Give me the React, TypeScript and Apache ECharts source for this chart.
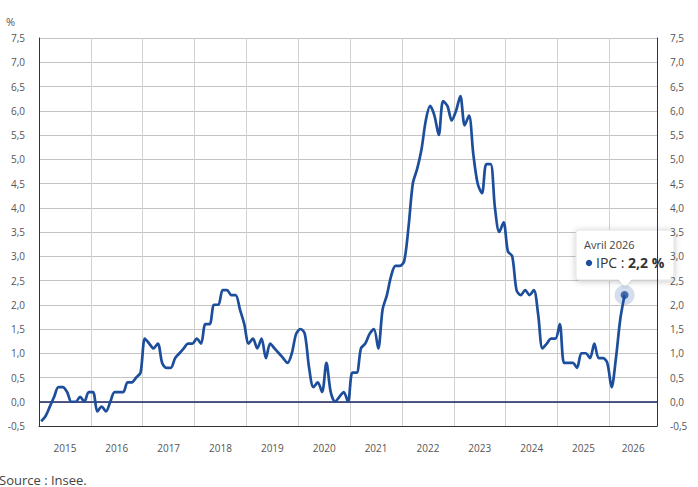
import React, { useEffect, useRef } from "react";
import * as echarts from "echarts";

// Glissement annuel de l'IPC (%), mensuel, janvier 2015 -> avril 2026
const ipc2015 = [-0.4, -0.3, -0.1, 0.1, 0.3, 0.3, 0.2, 0.0, 0.0, 0.1, 0.0, 0.2];
const ipc2016 = [0.2, -0.2, -0.1, -0.2, 0.0, 0.2, 0.2, 0.2, 0.4, 0.4, 0.5, 0.6];
const ipc2017 = [1.3, 1.2, 1.1, 1.2, 0.8, 0.7, 0.7, 0.9, 1.0, 1.1, 1.2, 1.2];
const ipc2018 = [1.3, 1.2, 1.6, 1.6, 2.0, 2.0, 2.3, 2.3, 2.2, 2.2, 1.9, 1.6];
const ipc2019 = [1.2, 1.3, 1.1, 1.3, 0.9, 1.2, 1.1, 1.0, 0.9, 0.8, 1.0, 1.4];
const ipc2020 = [1.5, 1.4, 0.7, 0.3, 0.4, 0.2, 0.8, 0.2, 0.0, 0.1, 0.2, 0.0];
const ipc2021 = [0.6, 0.6, 1.1, 1.2, 1.4, 1.5, 1.1, 1.9, 2.2, 2.6, 2.8, 2.8];
const ipc2022 = [2.9, 3.6, 4.5, 4.8, 5.2, 5.8, 6.1, 5.9, 5.5, 6.2, 6.1, 5.8];
const ipc2023 = [6.0, 6.3, 5.7, 5.9, 5.1, 4.5, 4.3, 4.9, 4.9, 4.0, 3.5, 3.7];
const ipc2024 = [3.1, 3.0, 2.3, 2.2, 2.3, 2.2, 2.3, 1.8, 1.1, 1.2, 1.3, 1.3];
const ipc2025 = [1.6, 0.8, 0.8, 0.8, 0.7, 1.0, 1.0, 0.9, 1.2, 0.9, 0.9, 0.8];
const ipc2026 = [0.3, 0.9, 1.7, 2.2];

const yearLabels = ["2015", "2016", "2017", "2018", "2019", "2020", "2021", "2022", "2023", "2024", "2025", "2026"];
const lastYearMonths = 11; // axis ends on 1 December 2026
const yMin = -0.5;
const yMax = 7.5;
const yStep = 0.5;

const seriesName = "IPC";
const tooltipTitle = "Avril 2026";
const unitLabel = "%";
const sourceLabel = "Source : Insee.";

const LINE = "#1d4e9b";
const FONT = "'Open Sans', 'Noto Sans', sans-serif";

const fmt = (v: number) => v.toFixed(1).replace(".", ",").replace("-0,0", "0,0");

export default function App() {
  const ref = useRef<HTMLDivElement>(null);

  useEffect(() => {
    if (!ref.current) return;
    const chart = echarts.init(ref.current, null, { renderer: "svg" });

    const values = [
      ...ipc2015, ...ipc2016, ...ipc2017, ...ipc2018, ...ipc2019, ...ipc2020,
      ...ipc2021, ...ipc2022, ...ipc2023, ...ipc2024, ...ipc2025, ...ipc2026,
    ];
    const data = values.map((v, i) => [i + 0.5, v]);
    const xMax = (yearLabels.length - 1) * 12 + lastYearMonths;
    const yearStarts = yearLabels.map((_, k) => k * 12);
    const labelPos = yearLabels.map((_, k) =>
      k === yearLabels.length - 1 ? (k * 12 + xMax) / 2 : k * 12 + 6
    );
    const last = data[data.length - 1];

    const yAxisBase = {
      type: "value",
      min: yMin,
      max: yMax,
      interval: yStep,
      axisTick: { show: false },
      axisLine: { show: true, lineStyle: { color: "#333", width: 1 } },
      axisLabel: {
        color: "#555",
        fontSize: 10,
        fontFamily: FONT,
        formatter: (v: number) => fmt(v),
      },
    };

    chart.setOption({
      animation: false,
      grid: { left: 39, right: 41, top: 38, bottom: 61 },
      xAxis: {
        type: "value",
        min: 0,
        max: xMax,
        axisLine: { show: true, onZero: false, lineStyle: { color: "#333", width: 1 } },
        axisTick: { show: false, customValues: yearStarts },
        splitLine: { show: true, lineStyle: { color: "#d0d0d0", width: 1 } },
        axisLabel: {
          customValues: labelPos,
          color: "#555",
          fontSize: 10,
          fontFamily: FONT,
          margin: 17,
          formatter: (v: number) => yearLabels[Math.min(yearLabels.length - 1, Math.floor(v / 12))],
        },
      },
      yAxis: [
        {
          ...yAxisBase,
          position: "left",
          splitLine: { show: true, lineStyle: { color: "#c4c4c4", width: 1 } },
          axisLabel: { ...yAxisBase.axisLabel, margin: 14 },
        },
        {
          ...yAxisBase,
          position: "right",
          splitLine: { show: false },
          axisLabel: { ...yAxisBase.axisLabel, margin: 13 },
        },
      ],
      series: [
        {
          name: seriesName,
          type: "line",
          data,
          smooth: 0.3,
          showSymbol: false,
          symbol: "none",
          lineStyle: { color: LINE, width: 2.7 },
          z: 3,
          markLine: {
            silent: true,
            symbol: "none",
            label: { show: false },
            lineStyle: { color: "#1b2560", width: 1.5, type: "solid" },
            data: [{ yAxis: 0 }],
            z: 2,
          },
        },
        {
          type: "scatter",
          data: [last],
          symbolSize: 20,
          itemStyle: { color: "rgba(40,90,170,0.25)" },
          silent: true,
          z: 4,
        },
        {
          type: "scatter",
          data: [last],
          symbolSize: 8,
          itemStyle: { color: LINE },
          silent: true,
          z: 5,
        },
      ],
    });

    const [px, py] = chart.convertToPixel({ seriesIndex: 0 }, last) as number[];
    const boxW = 98;
    const boxH = 50;
    const bx = Math.round(px - boxW / 2);
    const by = Math.round(py - 15 - boxH);

    chart.setOption({
      graphic: [
        {
          type: "text",
          left: 6,
          top: 16,
          style: { text: unitLabel, fill: "#555", fontSize: 11, fontFamily: FONT },
        },
        {
          type: "text",
          left: -1,
          top: 473,
          style: { text: sourceLabel, fill: "#444", fontSize: 13, fontFamily: FONT },
        },
        {
          type: "group",
          x: bx,
          y: by,
          z: 100,
          children: [
            {
              type: "rect",
              shape: { x: 0, y: 0, width: boxW, height: boxH, r: 3 },
              style: {
                fill: "#fff",
                stroke: "#e2e2e2",
                lineWidth: 1,
                shadowBlur: 6,
                shadowColor: "rgba(0,0,0,0.22)",
                shadowOffsetY: 1,
              },
            },
            {
              type: "polygon",
              shape: { points: [[boxW / 2 - 7, boxH - 1], [boxW / 2 + 7, boxH - 1], [boxW / 2, boxH + 7]] },
              style: { fill: "#fff", shadowBlur: 3, shadowColor: "rgba(0,0,0,0.15)", shadowOffsetY: 1 },
            },
            {
              type: "rect",
              shape: { x: boxW / 2 - 8, y: boxH - 4, width: 16, height: 3 },
              style: { fill: "#fff" },
            },
            {
              type: "text",
              x: 8,
              y: 9,
              style: { text: tooltipTitle, fill: "#444", fontSize: 11, fontFamily: FONT },
            },
            {
              type: "circle",
              shape: { cx: 13, cy: 33, r: 3.2 },
              style: { fill: LINE },
            },
            {
              type: "text",
              x: 20,
              y: 25,
              style: {
                text: "{n|" + seriesName + " : }{b|" + fmt(last[1]) + " %}",
                rich: {
                  n: { fill: "#333", fontSize: 14, fontFamily: FONT },
                  b: { fill: "#333", fontSize: 14, fontFamily: FONT, fontWeight: "bold" },
                },
              },
            },
          ],
        },
      ],
    });

    return () => chart.dispose();
  }, []);

  return (
    <div
      ref={ref}
      style={{ position: "fixed", left: 0, top: 0, width: 698, height: 487, background: "#fff" }}
    />
  );
}
